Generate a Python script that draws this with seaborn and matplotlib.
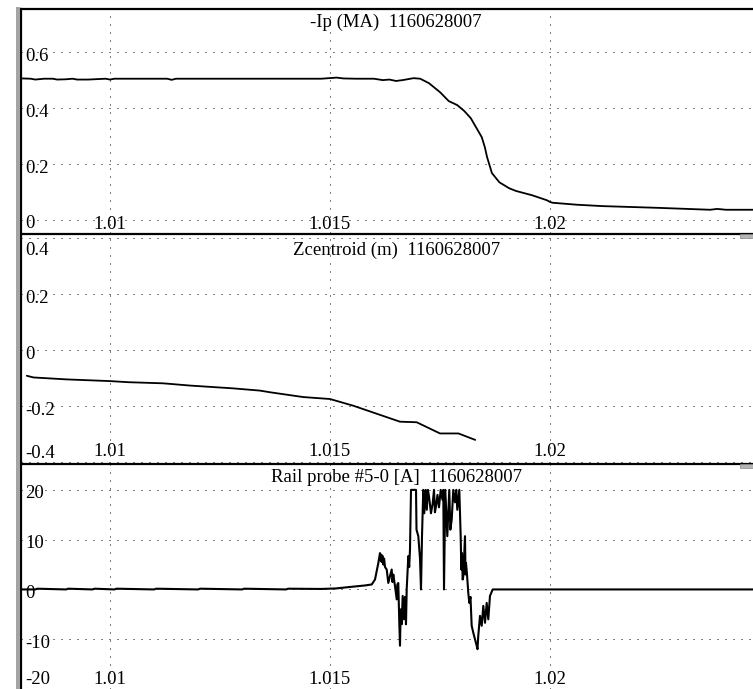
import matplotlib
matplotlib.use("Agg")
import matplotlib.pyplot as plt
import matplotlib.transforms as mtransforms
from matplotlib.patches import Rectangle
import seaborn as sns

# ---- shot 1160628007 signals ----
shot = "1160628007"

ip_time = [1.00800, 1.00820, 1.00830, 1.00850, 1.00870, 1.00880, 1.00900, 1.00915,
           1.00925, 1.00950, 1.00990, 1.01000, 1.01010, 1.01030, 1.01130, 1.01140,
           1.01150, 1.01300, 1.01480, 1.01515, 1.01530, 1.01560, 1.01600, 1.01620,
           1.01635, 1.01650, 1.01665, 1.01690, 1.01705, 1.01725, 1.01750, 1.01770,
           1.01789, 1.01805, 1.01820, 1.01845, 1.01852, 1.01857, 1.01868, 1.01885,
           1.01907, 1.01923, 1.01959, 1.01993, 1.02000, 1.02006, 1.02061, 1.02120,
           1.02243, 1.02364, 1.02380, 1.02400, 1.02462]
ip_ma = [0.506, 0.505, 0.502, 0.505, 0.505, 0.502, 0.503, 0.505,
         0.502, 0.502, 0.505, 0.502, 0.505, 0.505, 0.505, 0.501,
         0.505, 0.505, 0.505, 0.509, 0.506, 0.505, 0.505, 0.500,
         0.502, 0.497, 0.500, 0.507, 0.505, 0.489, 0.457, 0.425,
         0.411, 0.390, 0.364, 0.296, 0.260, 0.225, 0.168, 0.135,
         0.114, 0.104, 0.089, 0.071, 0.065, 0.062, 0.055, 0.050,
         0.044, 0.037, 0.040, 0.037, 0.037]

z_time = [1.00811, 1.00826, 1.00902, 1.01000, 1.01042, 1.01121, 1.01182, 1.01280,
          1.01341, 1.01364, 1.01439, 1.01500, 1.01553, 1.01659, 1.01697, 1.01750,
          1.01792, 1.01830]
z_m = [-0.092, -0.098, -0.105, -0.111, -0.115, -0.119, -0.127, -0.137,
       -0.145, -0.151, -0.168, -0.175, -0.199, -0.256, -0.258, -0.298,
       -0.298, -0.321]

rail_time = [
    1.007977, 1.008300, 1.008350, 1.009000, 1.009050, 1.009600, 1.009650, 1.010100,
    1.010150, 1.011000, 1.011050, 1.012000, 1.012050, 1.013000, 1.013050, 1.014000,
    1.014050, 1.014800, 1.015136, 1.015455, 1.015795, 1.015948,
    1.016023, 1.016098, 1.016136, 1.016150, 1.016160, 1.016175, 1.016190, 1.016211,
    1.016230, 1.016250, 1.016289, 1.016325, 1.016364, 1.016402, 1.016420, 1.016439,
    1.016477, 1.016516, 1.016530, 1.016552, 1.016575, 1.016591, 1.016607, 1.016630,
    1.016652, 1.016682, 1.016705, 1.016727, 1.016743, 1.016780, 1.016800, 1.016818,
    1.016841, 1.016955, 1.016966, 1.017007, 1.017045, 1.017068, 1.017091, 1.017120,
    1.017143, 1.017175, 1.017200, 1.017225, 1.017250, 1.017295, 1.017334, 1.017364,
    1.017385, 1.017409, 1.017443, 1.017477, 1.017516, 1.017557, 1.017575, 1.017591,
    1.017620, 1.017666, 1.017711, 1.017735, 1.017766, 1.017802, 1.017841, 1.017870,
    1.017893, 1.017939, 1.017970, 1.017985, 1.018000, 1.018015, 1.018030, 1.018068,
    1.018080, 1.018091, 1.018114, 1.018143, 1.018166, 1.018193, 1.018220, 1.018257,
    1.018295, 1.018334, 1.018352, 1.018370, 1.018409, 1.018448, 1.018484, 1.018523,
    1.018561, 1.018598, 1.018636, 1.018698, 1.024614]
rail_amp = [
    0.0, 0.0, 0.15, 0.0, 0.15, 0.0, 0.15, 0.0,
    0.15, 0.0, 0.15, 0.0, 0.15, 0.0, 0.15, 0.0,
    0.15, 0.1, 0.2, 0.5, 0.8, 1.0,
    2.0, 5.3, 7.3, 5.8, 7.0, 5.5, 6.8, 5.0,
    6.2, 4.5, 4.0, 1.3, 2.7, 4.0, 1.5, 3.0,
    0.7, -2.0, 1.0, 1.3, -6.7, -11.3, -4.0, -7.0,
    -1.3, -6.0, -1.5, -7.0, 0.0, 6.7, 4.5, 8.0,
    20.0, 20.0, 12.0, 10.7, 6.3, 0.0, 10.7, 20.0,
    15.3, 20.0, 16.0, 20.0, 18.7, 15.3, 17.3, 20.0,
    15.5, 16.7, 19.0, 16.5, 20.0, 18.0, 20.0, 0.0,
    20.0, 10.7, 20.0, 12.0, 14.0, 20.0, 17.5, 20.0,
    16.0, 20.0, 10.7, 4.0, 7.3, 2.0, 2.7, 10.7,
    3.0, 5.3, 3.0, -0.7, -2.7, -1.5, -7.3, -8.7,
    -10.0, -11.3, -12.0, -9.3, -5.3, -7.3, -3.3, -6.7,
    -2.7, -6.0, -1.3, 0.0, 0.0]

x_ticks = [1.01, 1.015, 1.02]
x_tick_labels = ["1.01", "1.015", "1.02"]

panels = [
    dict(title=f"-Ip (MA)  {shot}", t=ip_time, v=ip_ma, lw=1.3,
         ylim=(-0.046, 0.754), yticks=[0, 0.2, 0.4, 0.6],
         ylabels=["0", "0.2", "0.4", "0.6"], box=(9, 233), title_dy=13.5, xlab_dy=8.5),
    dict(title=f"Zcentroid (m)  {shot}", t=z_time, v=z_m, lw=1.3,
         ylim=(-0.4071, 0.4143), yticks=[-0.4, -0.2, 0, 0.2, 0.4],
         ylabels=["-0.4", "-0.2", "0", "0.2", "0.4"], box=(234, 464), title_dy=16, xlab_dy=13),
    dict(title=f"Rail probe #5-0 [A]  {shot}", t=rail_time, v=rail_amp, lw=1.5,
         ylim=(-19.8, 25.2), yticks=[-20, -10, 0, 10, 20],
         ylabels=["-20", "-10", "0", "10", "20"], box=(464, 689), title_dy=13.5, xlab_dy=9),
]

# ---- figure ----
sns.set_style("white")
plt.rcParams["font.family"] = ["Liberation Serif", "DejaVu Serif"]
FS = 13.5
W, H = 753, 689
LEFT = 21
fig = plt.figure(figsize=(W / 100, H / 100), dpi=100)
fig.patch.set_facecolor("white")

# window frame strip on the left and small scroll tabs on the right
fig.patches.append(Rectangle((16 / W, 0), 4.5 / W, 1 - 7 / H, transform=fig.transFigure,
                             facecolor="#a4a4a4", edgecolor="none", zorder=0))
for ty in (233, 463):
    fig.patches.append(Rectangle((740 / W, 1 - (ty + 5) / H), 13 / W, 4 / H,
                                 transform=fig.transFigure, facecolor="#b4b4b4",
                                 edgecolor="#8a8a8a", linewidth=0.5, zorder=5))

for p in panels:
    top, bot = p["box"]
    h = bot - top
    ax = fig.add_axes([LEFT / W, 1 - bot / H, (W - LEFT) / W, h / H])
    sns.lineplot(x=p["t"], y=p["v"], ax=ax, color="black", linewidth=p["lw"],
                 sort=False, estimator=None)
    ax.set_xlim(1.007977, 1.024614)
    ax.set_ylim(*p["ylim"])
    ax.set_xticks(x_ticks)
    ax.set_yticks(p["yticks"])
    ax.tick_params(length=0, labelbottom=False, labelleft=False)
    ax.grid(True, color="black", linestyle=(0, (1, 7)), linewidth=0.72)
    ax.set_xlabel("")
    ax.set_ylabel("")
    for side in ("right", "bottom"):
        ax.spines[side].set_visible(False)
    for side in ("left", "top"):
        ax.spines[side].set_color("black")
        ax.spines[side].set_linewidth(1.6)

    # y tick labels drawn inside the frame, kept within the panel
    y0, y1 = p["ylim"]
    for val, lab in zip(p["yticks"], p["ylabels"]):
        frac = (val - y0) / (y1 - y0) - 4 / h
        frac = min(max(frac, 10 / h), 1 - 17 / h)
        ax.text(4 / (W - LEFT), frac, lab, transform=ax.transAxes, ha="left",
                va="center", fontsize=FS, color="black")

    # x tick labels along the bottom of each panel
    trans = mtransforms.blended_transform_factory(ax.transData, ax.transAxes)
    for val, lab in zip(x_ticks, x_tick_labels):
        ax.text(val, p["xlab_dy"] / h, lab, transform=trans, ha="center",
                va="center", fontsize=FS, color="black")

    ax.text(0.5125, 1 - p["title_dy"] / h, p["title"], transform=ax.transAxes,
            ha="center", va="center", fontsize=FS, color="black")

fig.savefig("out.png", dpi=100, facecolor="white")
